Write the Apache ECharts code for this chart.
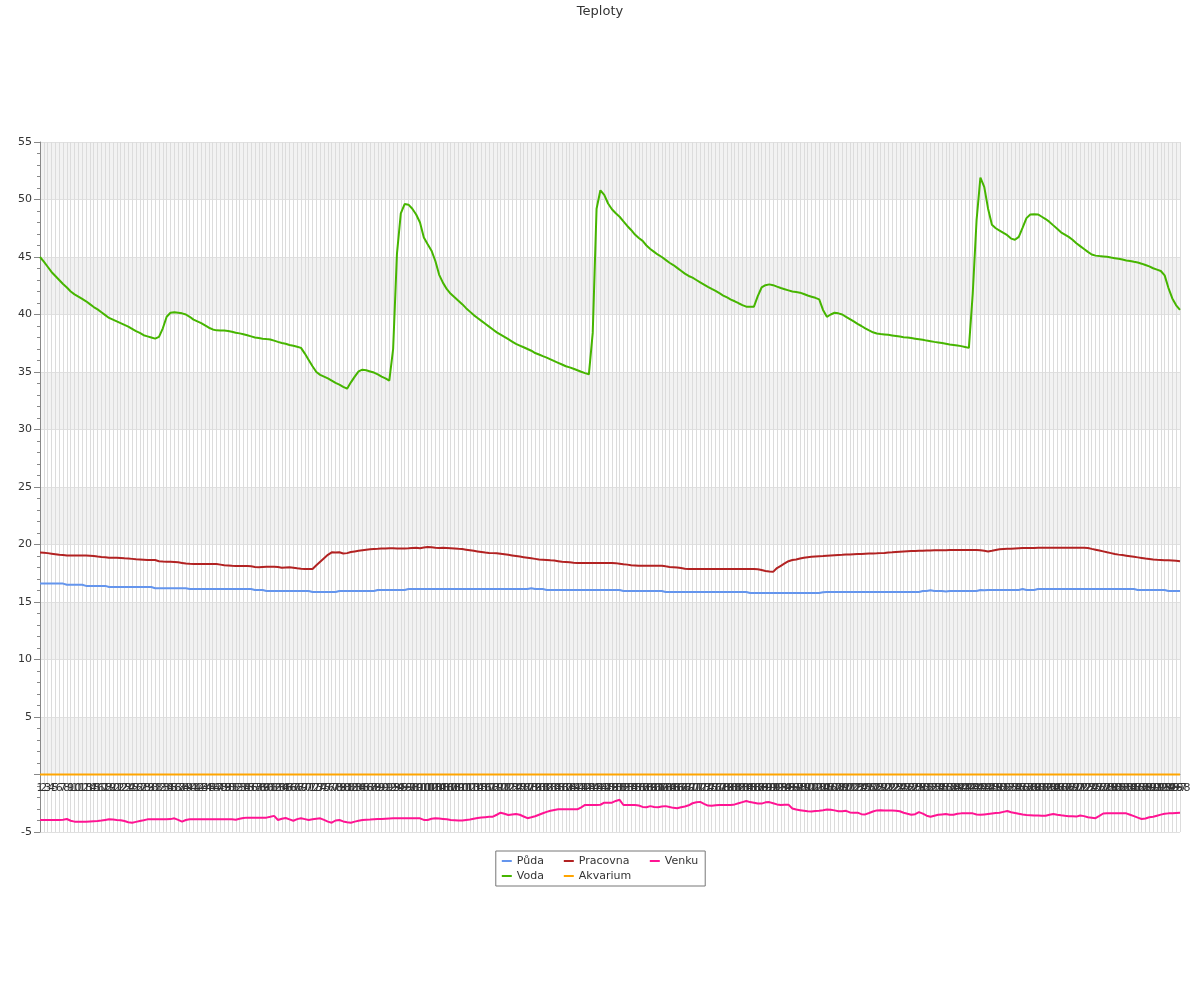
<!DOCTYPE html>
<html>
<head>
<meta charset="utf-8">
<script src="https://cdn.jsdelivr.net/npm/echarts@6/dist/echarts.min.js"></script>
<style>html,body{margin:0;padding:0;background:#fff}#c{width:1200px;height:1000px}</style>
</head>
<body>
<div id="c"></div>
<script>
var categories = [
1,2,3,4,5,6,7,8,9,10,11,12,13,14,15,16,17,18,19,20,
21,22,23,24,25,26,27,28,29,30,31,32,33,34,35,36,37,38,39,40,
41,42,43,44,45,46,47,48,49,50,51,52,53,54,55,56,57,58,59,60,
61,62,63,64,65,66,67,68,69,70,71,72,73,74,75,76,77,78,79,80,
81,82,83,84,85,86,87,88,89,90,91,92,93,94,95,96,97,98,99,100,
101,102,103,104,105,106,107,108,109,110,111,112,113,114,115,116,117,118,119,120,
121,122,123,124,125,126,127,128,129,130,131,132,133,134,135,136,137,138,139,140,
141,142,143,144,145,146,147,148,149,150,151,152,153,154,155,156,157,158,159,160,
161,162,163,164,165,166,167,168,169,170,171,172,173,174,175,176,177,178,179,180,
181,182,183,184,185,186,187,188,189,190,191,192,193,194,195,196,197,198,199,200,
201,202,203,204,205,206,207,208,209,210,211,212,213,214,215,216,217,218,219,220,
221,222,223,224,225,226,227,228,229,230,231,232,233,234,235,236,237,238,239,240,
241,242,243,244,245,246,247,248,249,250,251,252,253,254,255,256,257,258,259,260,
261,262,263,264,265,266,267,268,269,270,271,272,273,274,275,276,277,278,279,280,
281,282,283,284,285,286,287,288,289,290,291,292,293,294,295,296,297,298
];

var puda = [
16.6,16.6,16.6,16.6,16.6,16.6,16.6,16.5,16.5,16.5,
16.5,16.5,16.4,16.4,16.4,16.4,16.4,16.4,16.3,16.3,
16.3,16.3,16.3,16.3,16.3,16.3,16.3,16.3,16.3,16.3,
16.2,16.2,16.2,16.2,16.2,16.2,16.2,16.2,16.2,16.13,
16.13,16.13,16.13,16.13,16.13,16.13,16.13,16.13,16.13,16.13,
16.13,16.13,16.13,16.13,16.13,16.13,16.05,16.05,16.05,15.96,
15.96,15.96,15.96,15.96,15.96,15.96,15.96,15.96,15.96,15.96,
15.96,15.87,15.87,15.87,15.87,15.87,15.87,15.87,15.96,15.96,
15.96,15.96,15.96,15.96,15.96,15.96,15.96,15.96,16.05,16.05,
16.05,16.05,16.05,16.05,16.05,16.05,16.13,16.13,16.13,16.13,
16.13,16.13,16.13,16.13,16.13,16.13,16.13,16.13,16.13,16.13,
16.13,16.13,16.13,16.13,16.13,16.13,16.13,16.13,16.13,16.13,
16.13,16.13,16.13,16.13,16.13,16.13,16.13,16.13,16.2,16.13,
16.13,16.13,16.05,16.05,16.05,16.05,16.05,16.05,16.05,16.05,
16.05,16.05,16.05,16.05,16.05,16.05,16.05,16.05,16.05,16.05,
16.05,16.05,15.96,15.96,15.96,15.96,15.96,15.96,15.96,15.96,
15.96,15.96,15.96,15.87,15.87,15.87,15.87,15.87,15.87,15.87,
15.87,15.87,15.87,15.87,15.87,15.87,15.87,15.87,15.87,15.87,
15.87,15.87,15.87,15.87,15.87,15.78,15.78,15.78,15.78,15.78,
15.78,15.78,15.78,15.78,15.78,15.78,15.78,15.78,15.78,15.78,
15.78,15.78,15.78,15.78,15.85,15.87,15.87,15.87,15.87,15.87,
15.87,15.87,15.87,15.87,15.87,15.87,15.87,15.87,15.87,15.87,
15.87,15.87,15.87,15.87,15.87,15.87,15.87,15.87,15.87,15.87,
15.96,15.96,16.02,15.96,15.96,15.96,15.92,15.96,15.96,15.96,
15.96,15.96,15.96,15.96,15.96,16.05,16.02,16.05,16.05,16.05,
16.05,16.05,16.05,16.05,16.05,16.05,16.13,16.05,16.05,16.05,
16.13,16.13,16.13,16.13,16.13,16.13,16.13,16.13,16.13,16.13,
16.13,16.13,16.13,16.13,16.13,16.13,16.13,16.13,16.13,16.13,
16.13,16.13,16.13,16.13,16.13,16.13,16.05,16.05,16.05,16.05,
16.05,16.05,16.05,16.05,15.96,15.96,15.96,15.96
];

var voda = [
45.0,44.6,44.15,43.7,43.35,43.0,42.65,42.35,42.0,41.75,
41.55,41.35,41.15,40.9,40.65,40.45,40.2,39.95,39.7,39.55,
39.4,39.25,39.1,38.95,38.75,38.55,38.4,38.2,38.1,38.0,
37.9,38.05,38.8,39.8,40.15,40.2,40.15,40.1,40.0,39.8,
39.55,39.4,39.25,39.05,38.85,38.7,38.62,38.6,38.6,38.57,
38.5,38.42,38.36,38.28,38.2,38.1,38.0,37.95,37.9,37.86,
37.83,37.73,37.62,37.52,37.45,37.35,37.28,37.2,37.1,36.6,
36.05,35.5,35.0,34.75,34.6,34.45,34.25,34.05,33.9,33.7,
33.55,34.1,34.6,35.05,35.2,35.15,35.05,34.95,34.8,34.6,
34.45,34.25,37.0,45.3,48.8,49.6,49.55,49.2,48.7,48.0,
46.7,46.1,45.55,44.65,43.45,42.75,42.2,41.8,41.5,41.2,
40.9,40.55,40.25,39.95,39.7,39.45,39.2,38.95,38.7,38.45,
38.25,38.05,37.85,37.65,37.45,37.3,37.15,37.0,36.85,36.65,
36.52,36.38,36.25,36.1,35.95,35.8,35.65,35.5,35.4,35.28,
35.15,35.02,34.9,34.8,38.4,49.2,50.8,50.4,49.65,49.15,
48.8,48.5,48.1,47.7,47.35,46.95,46.65,46.4,46.0,45.7,
45.45,45.2,45.0,44.75,44.5,44.3,44.05,43.8,43.55,43.35,
43.2,43.0,42.8,42.6,42.4,42.22,42.05,41.85,41.65,41.48,
41.3,41.15,40.98,40.82,40.68,40.68,40.68,41.6,42.35,42.55,
42.62,42.55,42.42,42.3,42.2,42.1,42.0,41.95,41.9,41.78,
41.65,41.55,41.45,41.32,40.4,39.8,40.0,40.15,40.1,40.0,
39.8,39.6,39.4,39.18,39.0,38.8,38.62,38.45,38.35,38.3,
38.27,38.23,38.18,38.13,38.08,38.03,38.0,37.95,37.9,37.85,
37.8,37.73,37.68,37.62,37.57,37.52,37.46,37.4,37.35,37.3,
37.25,37.18,37.1,41.8,48.2,51.9,51.1,49.2,47.8,47.5,
47.3,47.1,46.9,46.6,46.5,46.75,47.55,48.38,48.7,48.72,
48.7,48.5,48.3,48.05,47.75,47.45,47.15,46.95,46.75,46.5,
46.2,45.95,45.7,45.45,45.22,45.12,45.08,45.05,45.02,44.95,
44.9,44.85,44.78,44.7,44.65,44.58,44.52,44.42,44.3,44.18,
44.02,43.9,43.78,43.4,42.3,41.4,40.8,40.4
];

var pracovna = [
19.3,19.28,19.25,19.2,19.15,19.1,19.08,19.05,19.05,19.05,
19.05,19.05,19.05,19.03,19.0,18.95,18.92,18.9,18.85,18.85,
18.85,18.83,18.8,18.78,18.75,18.72,18.7,18.68,18.65,18.65,
18.65,18.55,18.52,18.5,18.5,18.48,18.45,18.4,18.35,18.32,
18.3,18.3,18.3,18.3,18.3,18.3,18.3,18.25,18.2,18.18,
18.15,18.13,18.13,18.13,18.13,18.1,18.05,18.02,18.05,18.07,
18.07,18.07,18.05,17.98,18.0,18.02,17.98,17.93,17.9,17.88,
17.87,17.87,18.2,18.5,18.8,19.1,19.32,19.3,19.32,19.22,
19.25,19.35,19.4,19.45,19.5,19.55,19.58,19.6,19.62,19.65,
19.66,19.67,19.67,19.66,19.65,19.65,19.67,19.7,19.72,19.68,
19.73,19.78,19.76,19.72,19.7,19.72,19.7,19.68,19.65,19.62,
19.6,19.55,19.5,19.45,19.4,19.35,19.3,19.27,19.25,19.23,
19.2,19.15,19.1,19.05,19.0,18.95,18.9,18.85,18.8,18.75,
18.7,18.68,18.65,18.62,18.6,18.55,18.5,18.48,18.45,18.42,
18.4,18.4,18.4,18.4,18.4,18.4,18.4,18.4,18.4,18.4,
18.38,18.33,18.28,18.25,18.2,18.18,18.16,18.16,18.16,18.16,
18.16,18.16,18.16,18.1,18.05,18.03,18.0,17.95,17.9,17.88,
17.87,17.87,17.87,17.87,17.87,17.87,17.87,17.87,17.87,17.87,
17.87,17.87,17.87,17.87,17.87,17.87,17.87,17.85,17.78,17.7,
17.65,17.62,17.95,18.15,18.35,18.55,18.65,18.7,18.78,18.85,
18.9,18.93,18.96,18.98,19.0,19.03,19.05,19.07,19.09,19.1,
19.12,19.13,19.15,19.17,19.18,19.2,19.21,19.22,19.23,19.25,
19.27,19.3,19.32,19.35,19.38,19.4,19.42,19.43,19.44,19.45,
19.46,19.47,19.48,19.49,19.5,19.5,19.51,19.52,19.52,19.52,
19.52,19.52,19.53,19.53,19.53,19.5,19.46,19.4,19.45,19.52,
19.58,19.6,19.62,19.64,19.66,19.68,19.7,19.7,19.7,19.7,
19.72,19.72,19.72,19.72,19.72,19.72,19.72,19.72,19.72,19.72,
19.72,19.72,19.72,19.7,19.62,19.55,19.48,19.4,19.32,19.25,
19.18,19.12,19.08,19.03,18.98,18.93,18.88,18.83,18.78,18.74,
18.7,18.67,18.65,18.63,18.62,18.6,18.58,18.55
];

var akvarium = [
0,0,0,0,0,0,0,0,0,0,0,0,0,0,0,0,0,0,0,0,
0,0,0,0,0,0,0,0,0,0,0,0,0,0,0,0,0,0,0,0,
0,0,0,0,0,0,0,0,0,0,0,0,0,0,0,0,0,0,0,0,
0,0,0,0,0,0,0,0,0,0,0,0,0,0,0,0,0,0,0,0,
0,0,0,0,0,0,0,0,0,0,0,0,0,0,0,0,0,0,0,0,
0,0,0,0,0,0,0,0,0,0,0,0,0,0,0,0,0,0,0,0,
0,0,0,0,0,0,0,0,0,0,0,0,0,0,0,0,0,0,0,0,
0,0,0,0,0,0,0,0,0,0,0,0,0,0,0,0,0,0,0,0,
0,0,0,0,0,0,0,0,0,0,0,0,0,0,0,0,0,0,0,0,
0,0,0,0,0,0,0,0,0,0,0,0,0,0,0,0,0,0,0,0,
0,0,0,0,0,0,0,0,0,0,0,0,0,0,0,0,0,0,0,0,
0,0,0,0,0,0,0,0,0,0,0,0,0,0,0,0,0,0,0,0,
0,0,0,0,0,0,0,0,0,0,0,0,0,0,0,0,0,0,0,0,
0,0,0,0,0,0,0,0,0,0,0,0,0,0,0,0,0,0,0,0,
0,0,0,0,0,0,0,0,0,0,0,0,0,0,0,0,0,0
];

var venku = [
-3.96,-3.96,-3.96,-3.96,-3.96,-3.96,-3.93,-3.87,-4.02,-4.1,
-4.1,-4.1,-4.1,-4.08,-4.06,-4.04,-4.0,-3.95,-3.9,-3.92,
-3.95,-3.97,-4.05,-4.15,-4.19,-4.12,-4.05,-3.98,-3.9,-3.9,
-3.9,-3.9,-3.9,-3.9,-3.88,-3.81,-3.95,-4.1,-3.96,-3.9,
-3.9,-3.9,-3.9,-3.9,-3.9,-3.9,-3.9,-3.9,-3.9,-3.9,
-3.9,-3.94,-3.85,-3.78,-3.75,-3.75,-3.75,-3.75,-3.75,-3.75,
-3.68,-3.6,-3.96,-3.85,-3.78,-3.9,-4.02,-3.88,-3.81,-3.88,
-3.96,-3.9,-3.84,-3.81,-3.95,-4.1,-4.19,-4.0,-3.96,-4.08,
-4.15,-4.19,-4.1,-4.02,-3.96,-3.93,-3.92,-3.9,-3.88,-3.86,
-3.84,-3.82,-3.81,-3.81,-3.81,-3.81,-3.81,-3.81,-3.81,-3.81,
-3.95,-3.95,-3.85,-3.81,-3.83,-3.86,-3.9,-3.95,-3.98,-4.01,
-4.0,-3.95,-3.91,-3.85,-3.79,-3.74,-3.71,-3.68,-3.67,-3.5,
-3.32,-3.42,-3.52,-3.48,-3.44,-3.5,-3.65,-3.8,-3.72,-3.63,
-3.5,-3.37,-3.25,-3.15,-3.08,-3.03,-3.03,-3.03,-3.03,-3.03,
-3.03,-2.85,-2.65,-2.65,-2.65,-2.65,-2.63,-2.45,-2.45,-2.45,
-2.3,-2.2,-2.65,-2.65,-2.65,-2.65,-2.7,-2.82,-2.85,-2.75,
-2.83,-2.84,-2.78,-2.75,-2.82,-2.9,-2.94,-2.85,-2.78,-2.68,
-2.5,-2.42,-2.38,-2.55,-2.7,-2.72,-2.68,-2.65,-2.65,-2.65,
-2.65,-2.6,-2.5,-2.4,-2.3,-2.4,-2.45,-2.53,-2.53,-2.42,
-2.4,-2.5,-2.6,-2.65,-2.62,-2.62,-2.95,-3.05,-3.1,-3.15,
-3.2,-3.22,-3.18,-3.15,-3.1,-3.04,-3.06,-3.12,-3.2,-3.2,
-3.16,-3.3,-3.32,-3.32,-3.45,-3.47,-3.35,-3.22,-3.12,-3.1,
-3.12,-3.13,-3.14,-3.15,-3.2,-3.33,-3.42,-3.5,-3.45,-3.27,
-3.4,-3.58,-3.67,-3.58,-3.5,-3.47,-3.44,-3.5,-3.5,-3.42,
-3.38,-3.38,-3.38,-3.38,-3.48,-3.51,-3.47,-3.43,-3.39,-3.35,
-3.33,-3.25,-3.17,-3.28,-3.35,-3.42,-3.48,-3.52,-3.54,-3.56,
-3.57,-3.58,-3.59,-3.5,-3.44,-3.5,-3.55,-3.59,-3.62,-3.64,
-3.66,-3.56,-3.62,-3.72,-3.76,-3.8,-3.6,-3.39,-3.38,-3.38,
-3.38,-3.38,-3.38,-3.38,-3.5,-3.62,-3.75,-3.87,-3.82,-3.72,
-3.67,-3.58,-3.49,-3.42,-3.38,-3.36,-3.34,-3.32
];

var FONT = 'DejaVu Sans';
var chart = echarts.init(document.getElementById('c'), null, {renderer: 'canvas'});

function line(name, data, color) {
  return {
    name: name, type: 'line', data: data, symbol: 'none', showSymbol: false,
    lineStyle: {color: color, width: 2}, itemStyle: {color: color},
    emphasis: {disabled: true}
  };
}

chart.setOption({
  animation: false,
  backgroundColor: '#ffffff',
  textStyle: {fontFamily: FONT},
  title: {
    text: 'Teploty', left: 'center', top: 0,
    textStyle: {fontSize: 13, fontWeight: 'normal', color: '#333', fontFamily: FONT}
  },
  grid: {left: 40, right: 20, top: 142, bottom: 168, containLabel: false},
  legend: {
    orient: 'vertical',
    left: 'center',
    top: 851,
    height: 28,
    itemGap: 3,
    itemWidth: 10,
    itemHeight: 2,
    icon: 'rect',
    padding: [4, 7, 4, 6],
    borderColor: '#777',
    borderWidth: 1,
    textStyle: {fontSize: 11, color: '#333', lineHeight: 12, fontFamily: FONT},
    data: [
      {name: 'Půda', textStyle: {width: 44}},
      {name: 'Voda', textStyle: {width: 44}},
      {name: 'Pracovna', textStyle: {width: 68}},
      {name: 'Akvarium', textStyle: {width: 68}},
      {name: 'Venku'}
    ]
  },
  xAxis: {
    type: 'category',
    data: categories,
    boundaryGap: false,
    offset: -57.5,
    axisLine: {show: true, onZero: false, lineStyle: {color: '#888', width: 1}},
    axisTick: {show: false},
    axisLabel: {interval: 0, fontSize: 11, color: '#333', fontFamily: FONT, margin: 8},
    splitLine: {show: true, interval: 0, lineStyle: {color: '#dcdcdc', width: 1}}
  },
  yAxis: {
    type: 'value',
    min: -5, max: 55, interval: 5,
    axisLine: {show: true, lineStyle: {color: '#888', width: 1}},
    axisTick: {show: true, length: 6, lineStyle: {color: '#888'}},
    minorTick: {show: true, splitNumber: 5, length: 3, lineStyle: {color: '#888'}},
    axisLabel: {
      fontSize: 11, color: '#333', fontFamily: FONT, margin: 8,
      formatter: function (v) { return v === 0 ? '' : String(v); }
    },
    splitLine: {show: true, lineStyle: {color: '#e0e0e0', width: 1}},
    splitArea: {show: true, areaStyle: {color: ['rgba(255,255,255,0)', '#f2f2f2']}}
  },
  series: [
    line('Půda', puda, '#6495ED'),
    line('Voda', voda, '#46b500'),
    line('Pracovna', pracovna, '#B22222'),
    line('Akvarium', akvarium, '#FFA500'),
    line('Venku', venku, '#FF1493')
  ]
});
</script>
</body>
</html>
